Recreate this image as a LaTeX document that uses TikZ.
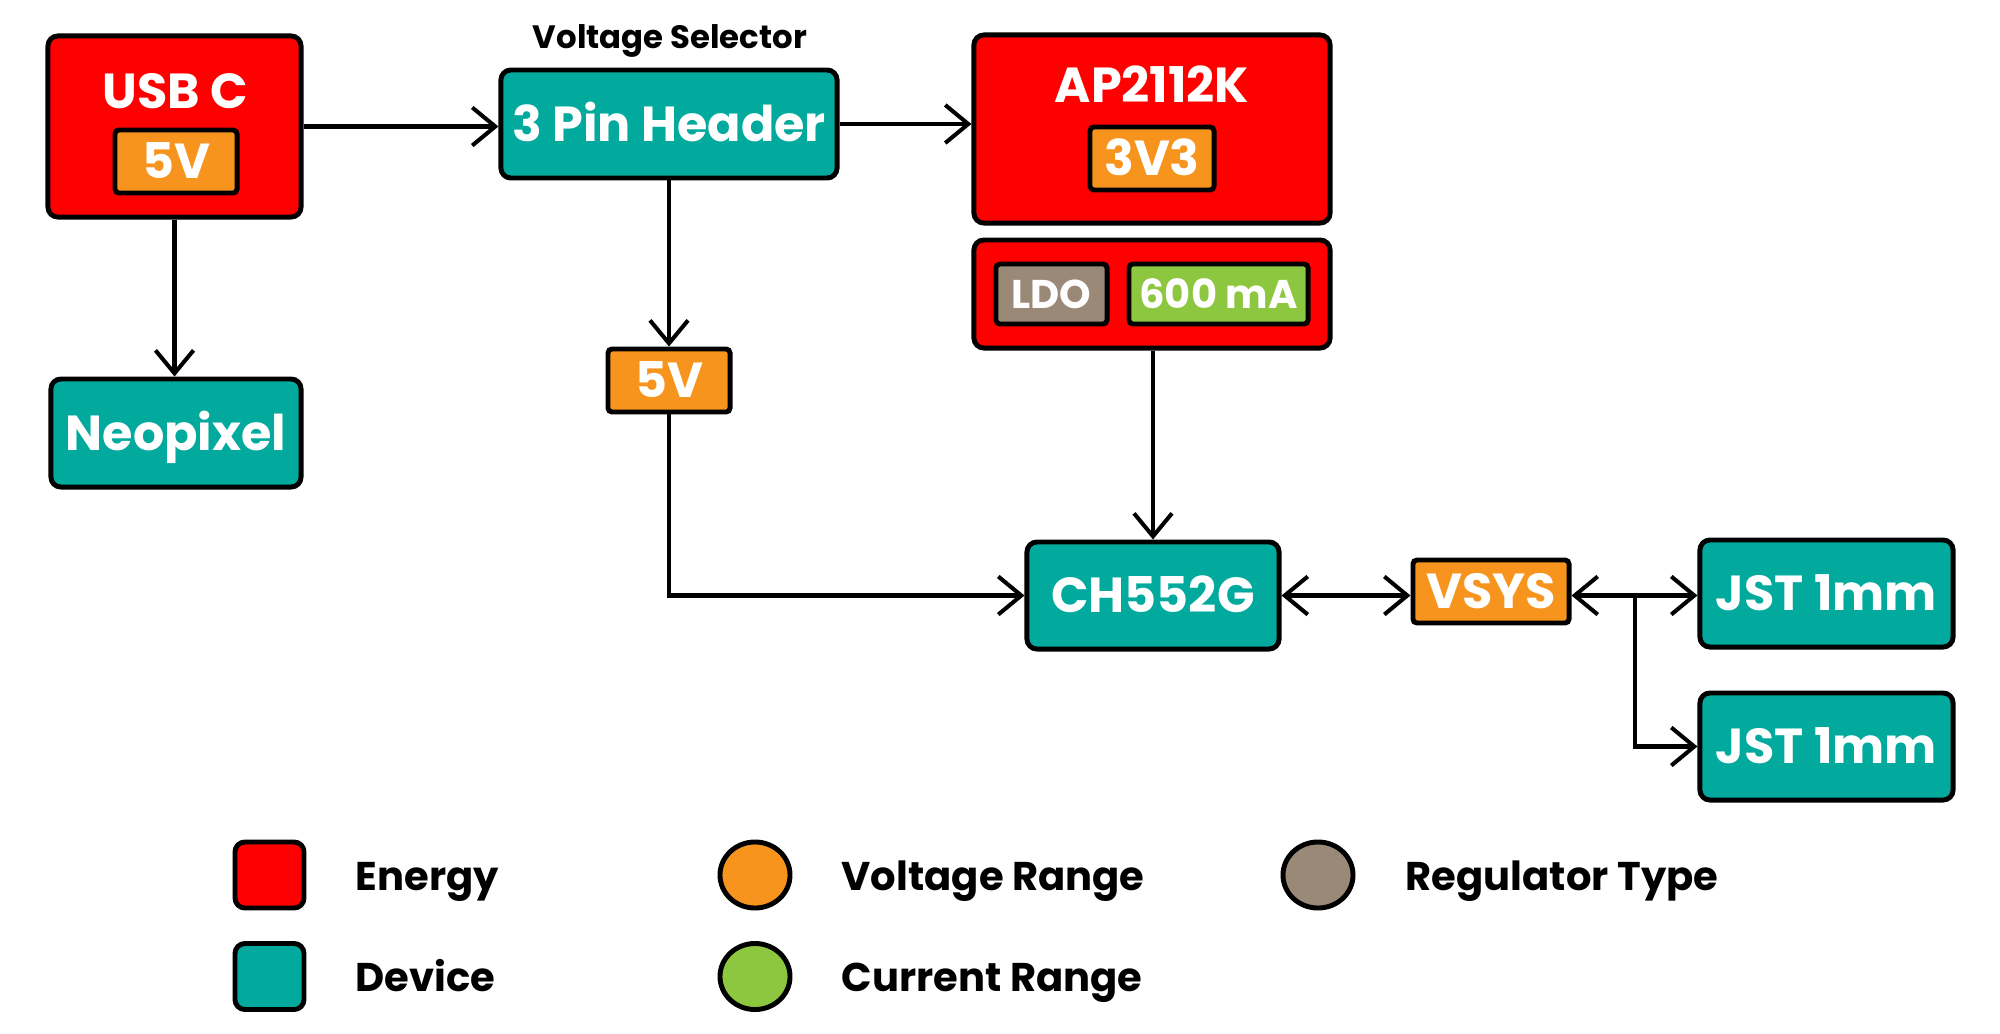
\documentclass[tikz,border=0pt]{standalone}
\usepackage{fontspec}
\setmainfont{Poppins}
\usetikzlibrary{arrows.meta}

\newcommand{\boxfont}{\bfseries\fontsize{14}{16}\selectfont}
\newcommand{\tagfont}{\bfseries\fontsize{11.4}{13}\selectfont}
\newcommand{\notefont}{\bfseries\fontsize{9.2}{11}\selectfont}

\begin{document}
\begin{tikzpicture}[x=0.01cm, y=-0.01cm,
  box/.style={draw=black, line width=1.4pt, rounded corners=1mm, inner sep=0pt,
    text=white, font=\boxfont, text height=9.8pt, text depth=0pt},
  tag/.style={box, rounded corners=0.4mm},
  smalltag/.style={tag, font=\tagfont, text height=8pt},
  title/.style={anchor=base, text=white, font=\boxfont, inner sep=0pt},
  legendtext/.style={anchor=base west, font=\tagfont, inner sep=0pt},
  wire/.style={line width=1.15pt, -{Straight Barb[length=2.3mm, width=3.8mm]}},
  twoway/.style={line width=1.15pt, {Straight Barb[length=2.3mm, width=3.8mm]}-{Straight Barb[length=2.3mm, width=3.8mm]}}
  ]

% Define colors of the blocks
\definecolor{energy}{RGB}{255,0,0}
\definecolor{device}{RGB}{2,169,157}
\definecolor{volt}{RGB}{247,148,30}
\definecolor{amps}{RGB}{141,198,63}
\definecolor{reg}{RGB}{155,137,120}

\useasboundingbox (0,0) rectangle (2000,1033);

% USB C input
\node[box, fill=energy, minimum width=2.53cm, minimum height=1.81cm] (usb) at (174.5,126.5) {};
\node[title] (usbname) at (175,108) {USB C};
\node[tag, fill=volt, minimum width=1.22cm, minimum height=0.63cm] (usbv) at (176,161.5) {5V};

% Voltage selector
\node[anchor=base, font=\notefont, inner sep=0pt] (selname) at (670,48) {Voltage Selector};
\node[box, fill=device, minimum width=3.36cm, minimum height=1.08cm] (header) at (669,124) {3 Pin Header};
\node[tag, fill=volt, minimum width=1.22cm, minimum height=0.63cm] (selv) at (669,380.5) {5V};

% Regulator
\node[box, fill=energy, minimum width=3.56cm, minimum height=1.88cm] (ap) at (1152,129) {};
\node[title] (apname) at (1152,102) {AP2112K};
\node[tag, fill=volt, minimum width=1.24cm, minimum height=0.63cm] (apv) at (1152,158.5) {3V3};
\node[box, fill=energy, minimum width=3.56cm, minimum height=1.08cm] (ldo) at (1152,294) {};
\node[smalltag, fill=reg, minimum width=1.11cm, minimum height=0.6cm] (ldotype) at (1051.5,294) {LDO};
\node[smalltag, fill=amps, minimum width=1.79cm, minimum height=0.6cm] (ldoamps) at (1218.5,294) {600 mA};

% Devices
\node[box, fill=device, minimum width=2.5cm, minimum height=1.08cm] (neo) at (176,433) {Neopixel};
\node[box, fill=device, minimum width=2.52cm, minimum height=1.07cm] (ch) at (1153,595.5) {CH552G};
\node[tag, fill=volt, minimum width=1.56cm, minimum height=0.63cm] (vsys) at (1491,591.5) {VSYS};
\node[box, fill=device, minimum width=2.53cm, minimum height=1.07cm] (jsta) at (1826.5,593.5) {JST 1mm};
\node[box, fill=device, minimum width=2.53cm, minimum height=1.07cm] (jstb) at (1826.5,746.5) {JST 1mm};

% Connections
\draw[wire] (usb.east) -- (usb.east -| header.west);
\draw[wire] (header.east) -- (header.east -| ap.west);
\draw[wire] (usb.south) -- (usb.south |- neo.north);
\draw[wire] (header.south) -- (selv.north);
\draw[wire] (selv.south) |- (ch.west);
\draw[wire] (ldo.south -| ch.north) -- (ch.north);
\draw[twoway] (ch.east) -- (ch.east -| vsys.west);
\draw[twoway] (vsys.east |- ch.east) -- (ch.east -| jsta.west);
\coordinate (split) at (1635,595.5);
\draw[wire] (split) |- (jstb.west);

% Legend
\node[box, fill=energy, minimum width=0.69cm, minimum height=0.66cm] (keyenergy) at (269.5,875) {};
\node[legendtext] (keyenergytext) at (355,890) {Energy};
\node[box, fill=device, minimum width=0.69cm, minimum height=0.66cm] (keydevice) at (269.5,976.5) {};
\node[legendtext] (keydevicetext) at (355,991) {Device};
\draw[line width=1.4pt, fill=volt] (755,875) ellipse (0.35cm and 0.33cm);
\node[legendtext] (keyvolttext) at (841,890) {Voltage Range};
\draw[line width=1.4pt, fill=amps] (755,976.5) ellipse (0.35cm and 0.33cm);
\node[legendtext] (keyampstext) at (841,991) {Current Range};
\draw[line width=1.4pt, fill=reg] (1318,875) ellipse (0.35cm and 0.33cm);
\node[legendtext] (keyregtext) at (1405,890) {Regulator Type};
\end{tikzpicture}
\end{document}
